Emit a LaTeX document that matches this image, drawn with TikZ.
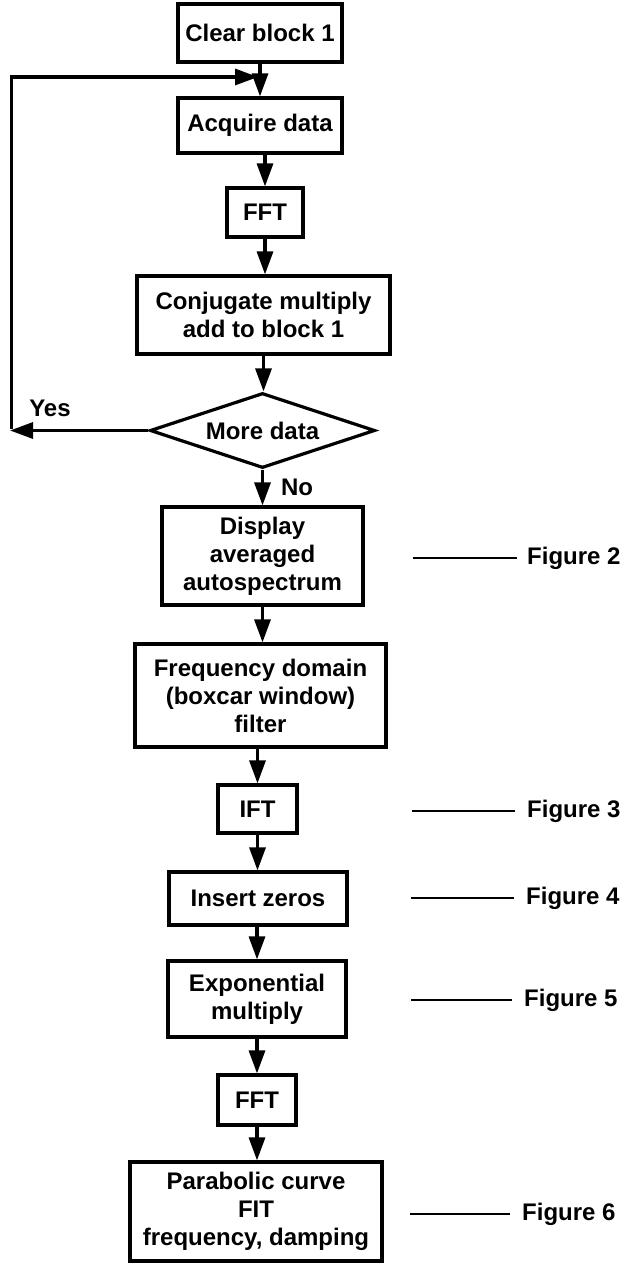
\documentclass[tikz,border=0pt]{standalone}
\usepackage{fontspec}
\setmainfont{Liberation Sans}
\usetikzlibrary{arrows.meta,shapes.geometric}
\begin{document}
\begin{tikzpicture}[x=1pt,y=-1pt,
  every node/.style={font=\fontsize{24}{28}\selectfont\bfseries},
  procbox/.style={draw,line width=3.2pt,inner sep=0pt,align=center},
  decide/.style={draw,diamond,line width=3.2pt,inner sep=0pt,aspect=3},
  arr/.style={line width=3.2pt,-{Triangle[length=23pt,width=16pt]}},
  plain/.style={line width=3.2pt},
  figline/.style={line width=2.8pt},
  lbl/.style={inner sep=0pt}]
\useasboundingbox (0,0) rectangle (625,1264);
\node[procbox,minimum width=164pt,minimum height=58pt] (clear) at (260,33) {Clear block 1};
\node[procbox,minimum width=164pt,minimum height=55pt] (acq) at (260,125.5) {Acquire data};
\node[procbox,minimum width=76pt,minimum height=49pt] (fft1) at (265,212.5) {FFT};
\node[procbox,minimum width=253pt,minimum height=78pt] (conj) at (263.5,315) {Conjugate multiply\\add to block 1};
\node[decide,minimum width=225pt,minimum height=75pt] (dec) at (262.5,430.5) {More data};
\node[procbox,minimum width=201pt,minimum height=98pt] (disp) at (262.5,556) {Display\\averaged\\autospectrum};
\node[procbox,minimum width=251pt,minimum height=103pt] (freq) at (260.5,695.5) {Frequency domain\\(boxcar window)\\filter};
\node[procbox,minimum width=79pt,minimum height=48pt] (ift) at (257.5,809) {IFT};
\node[procbox,minimum width=178pt,minimum height=53pt] (ins) at (258,898.5) {Insert zeros};
\node[procbox,minimum width=178pt,minimum height=76pt] (expo) at (257,999) {Exponential\\multiply};
\node[procbox,minimum width=78pt,minimum height=50pt] (fft2) at (257,1100) {FFT};
\node[procbox,minimum width=252pt,minimum height=99pt] (para) at (256,1211.5) {Parabolic curve\\FIT\\frequency, damping};

% main flow
\draw[arr] (clear.south) -- (clear.south |- acq.north);
\draw[arr] (acq.south -| fft1) -- (fft1.north);
\draw[arr] (fft1.south) -- (fft1.south |- conj.north);
\draw[arr] (conj.south) -- (conj.south |- dec.north);
\draw[arr] (dec.south) -- (dec.south |- disp.north);
\draw[arr] (disp.south) -- (disp.south |- freq.north);
\draw[arr] (freq.south -| ift) -- (ift.north);
\draw[arr] (ift.south) -- (ift.south |- ins.north);
\draw[arr] (ins.south -| expo) -- (expo.north);
\draw[arr] (expo.south) -- (expo.south |- fft2.north);
\draw[arr] (fft2.south) -- (fft2.south |- para.north);

% loop back
\coordinate (yesend) at (10,430.5);
\coordinate (loopcorner) at (11.5,77);
\coordinate (looptip) at (258,77);
\draw[arr] (dec.west) -- (yesend);
\draw[plain] (11.5,429) -- (loopcorner) -- (40,77);
\draw[arr] (30,77) -- (looptip);

\node[lbl] (yes) at (50,408) {Yes};
\node[lbl] (no) at (297,487) {No};

% figure references
\node[lbl,anchor=west] (f2) at (527,558) {Figure 2};
\node[lbl,anchor=west] (f3) at (527,811) {Figure 3};
\node[lbl,anchor=west] (f4) at (526,898) {Figure 4};
\node[lbl,anchor=west] (f5) at (524,1000) {Figure 5};
\node[lbl,anchor=west] (f6) at (522,1214) {Figure 6};
\coordinate (l2) at (413,558);
\coordinate (l3) at (412,811);
\coordinate (l4) at (411,898);
\coordinate (l5) at (411,1000);
\coordinate (l6) at (410,1214);
\draw[figline] (l2) -- ([xshift=-10pt]f2.west);
\draw[figline] (l3) -- ([xshift=-12pt]f3.west);
\draw[figline] (l4) -- ([xshift=-12pt]f4.west);
\draw[figline] (l5) -- ([xshift=-12pt]f5.west);
\draw[figline] (l6) -- ([xshift=-12pt]f6.west);
\end{tikzpicture}
\end{document}
